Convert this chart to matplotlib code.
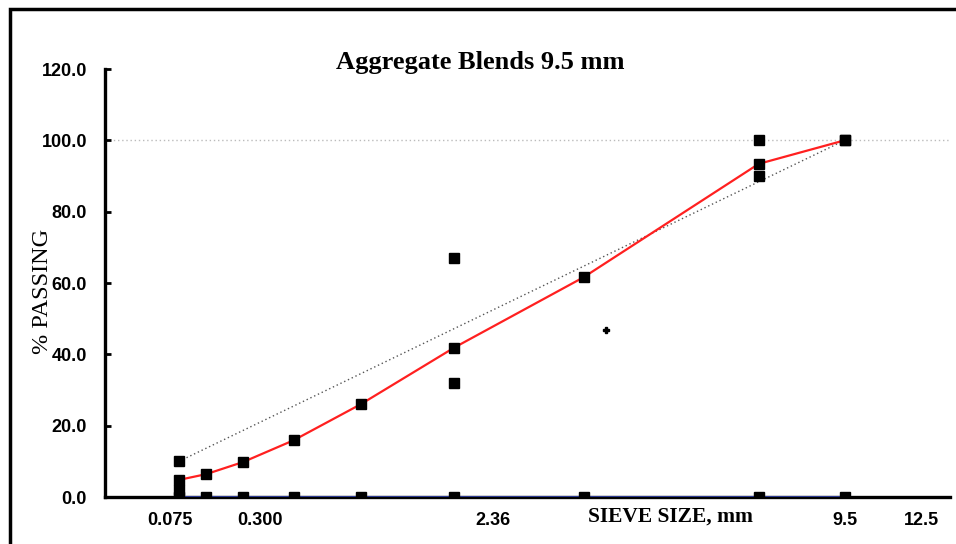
import numpy as np
import matplotlib.pyplot as plt
from matplotlib.patches import Rectangle

# sieve sizes (mm) and percent passing
sieves = [0.075, 0.15, 0.3, 0.6, 1.18, 2.36, 4.75, 9.5, 12.5]
blend = [4.8, 6.4, 9.8, 15.9, 26.0, 41.9, 61.6, 93.4, 100.0]

# control points
ctrl_sieves = [0.075, 0.075, 2.36, 2.36, 9.5, 9.5, 12.5]
ctrl_pass = [2.0, 10.0, 32.0, 67.0, 90.0, 100.0, 100.0]

# maximum density line end points
mdl_sieves = [0.075, 12.5]
mdl_pass = [10.0, 100.0]

# stray point
extra_sieve = [5.25]
extra_pass = [46.8]

ytick_vals = [0.0, 20.0, 40.0, 60.0, 80.0, 100.0, 120.0]
xtick_labels = ['0.075', '0.300', '2.36', '9.5', '12.5']
xtick_pos = [0.274, 0.651, 1.634, 3.116, 3.44]

power = 0.45


def tr(v):
    return np.array(v) ** power


fig = plt.figure(figsize=(9.56, 5.44), dpi=100)
ax = fig.add_axes([105 / 956, 47 / 544, 845 / 956, 428 / 544])

ax.axhline(100, color='#bbbbbb', lw=1.0, ls=(0, (1, 2)), zorder=1)
ax.plot(tr(mdl_sieves), mdl_pass, color='#555555', lw=1.0, ls=(0, (1, 2)), zorder=2)
ax.plot(tr(sieves), np.zeros(len(sieves)), color='#2b3990', lw=2.2, zorder=3)
ax.plot(tr(sieves), np.zeros(len(sieves)), 's', color='black', ms=6.5, zorder=5)
ax.plot(tr(sieves), blend, color='#ff2020', lw=1.6, zorder=3)
ax.plot(tr(sieves), blend, 's', color='black', ms=6.5, zorder=5)
ax.plot(tr(ctrl_sieves), ctrl_pass, 's', color='black', ms=6.5, zorder=5)
ax.plot(tr(extra_sieve), extra_pass, 'P', color='black', ms=4, zorder=5)

ax.set_xlim(0, 3.56)
ax.set_ylim(0, 120)

for s in ['top', 'right']:
    ax.spines[s].set_visible(False)
for s in ['left', 'bottom']:
    ax.spines[s].set_linewidth(2.4)

ax.set_yticks(ytick_vals)
ax.set_yticklabels(['%.1f' % v for v in ytick_vals],
                   fontfamily='Liberation Sans', fontweight='bold', fontsize=13)
ax.tick_params(axis='y', direction='in', length=4, width=2, pad=13)

ax.set_xticks(xtick_pos)
ax.set_xticklabels(xtick_labels, fontfamily='Liberation Sans', fontweight='bold', fontsize=13)
ax.tick_params(axis='x', length=0, pad=11)

fig.text(480 / 956, 1 - 62 / 544, 'Aggregate Blends 9.5 mm', ha='center', va='center',
         fontfamily='Liberation Serif', fontweight='bold', fontsize=19)
fig.text(588 / 956, 1 - 517 / 544, 'SIEVE SIZE, mm', ha='left', va='center',
         fontfamily='Liberation Serif', fontweight='bold', fontsize=15.5)
fig.text(42 / 956, 1 - 291 / 544, '% PASSING', ha='center', va='center', rotation=90,
         fontfamily='Liberation Serif', fontsize=17.5)

# frame around the chart
fig.patches.append(Rectangle((10 / 956, -0.05), 1.2, 1 - 9 / 544 + 0.05,
                             transform=fig.transFigure, fill=False,
                             edgecolor='black', lw=2.5))

fig.savefig('out.png', dpi=100)
